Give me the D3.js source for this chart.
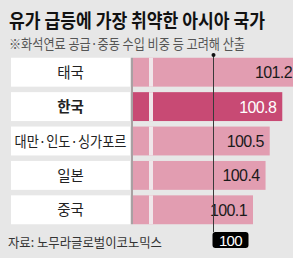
<!DOCTYPE html>
<html>
<head>
<meta charset="utf-8">
<script src="https://cdn.jsdelivr.net/npm/d3@7"></script>
<style>
  body { margin: 0; background: #fff; }
  text { font-family: "Noto Sans CJK KR", "Noto Sans", sans-serif; }
  .num { font-family: "Liberation Sans", Arial, sans-serif; }
</style>
</head>
<body>
<svg id="chart" width="293" height="273"></svg>
<script>
/* DATA */
const countries = ["태국", "한국", "대만·인도·싱가포르", "일본", "중국"];
const values = [101.2, 100.8, 100.5, 100.4, 100.1];
const highlight = "한국";
const refValue = 100;

const width = 293, height = 273;
const svg = d3.select("svg#chart");

/* BACKGROUND */
svg.append("rect").attr("x", 0).attr("y", 0)
  .attr("width", width).attr("height", 258)
  .attr("fill", "#e7e7e7");

/* SCALES */
const labelLeft = 11, labelRight = 130, barStart = 133;

// infographic scale is not linear from the baseline, so use a piecewise domain
let xScale = d3.scaleLinear()
  .domain([refValue, 100.1, 101.2])
  .range([214, 253, 299]);

let yScale = d3.scaleBand()
  .domain(countries)
  .range([55, 227])
  .paddingInner(0.16)
  .paddingOuter(0.08);

const rows = countries.map((c, i) => ({country: c, value: values[i]}));

/* TITLES */
svg.append("text")
  .attr("x", 9).attr("y", 28)
  .attr("font-size", 19).attr("font-weight", 700)
  .attr("fill", "#111")
  .attr("textLength", 256).attr("lengthAdjust", "spacingAndGlyphs")
  .text("유가 급등에 가장 취약한 아시아 국가");

svg.append("text")
  .attr("x", 9).attr("y", 49)
  .attr("font-size", 14)
  .attr("fill", "#555")
  .attr("textLength", 236).attr("lengthAdjust", "spacingAndGlyphs")
  .text("※화석연료 공급·중동 수입 비중 등 고려해 산출");

/* ROWS */
const plotArea = svg.append("g").attr("id", "plotArea");

const row = plotArea.selectAll("g.row")
  .data(rows)
  .join("g")
  .attr("class", "row");

row.append("rect")
  .attr("x", labelLeft)
  .attr("y", d => yScale(d.country))
  .attr("width", labelRight - labelLeft)
  .attr("height", yScale.bandwidth())
  .attr("fill", "#fff");

const labels = row.append("text")
  .attr("x", (labelLeft + labelRight) / 2)
  .attr("y", d => yScale(d.country) + yScale.bandwidth() / 2 + 5.5)
  .attr("text-anchor", "middle")
  .attr("font-size", 14.5)
  .attr("font-weight", d => d.country === highlight ? 700 : 400)
  .attr("fill", "#222")
  .text(d => d.country);

// the CJK middle dot is full width; squeeze long labels into the cell
labels.each(function() {
  if (this.getComputedTextLength() > 112) {
    d3.select(this).attr("textLength", 112).attr("lengthAdjust", "spacingAndGlyphs");
  }
});

row.append("rect")
  .attr("x", barStart)
  .attr("y", d => yScale(d.country))
  .attr("width", d => xScale(d.value) - barStart)
  .attr("height", yScale.bandwidth())
  .attr("fill", d => d.country === highlight ? "#c84a74" : "#e29db1");

// white gap across the bars
row.append("rect")
  .attr("x", 149)
  .attr("y", d => yScale(d.country))
  .attr("width", 4)
  .attr("height", yScale.bandwidth())
  .attr("fill", "#f0e6ea");

row.append("text")
  .attr("class", "num")
  .attr("x", d => Math.min(xScale(d.value) - 6, 292))
  .attr("y", d => yScale(d.country) + yScale.bandwidth() / 2 + 6)
  .attr("text-anchor", "end")
  .attr("font-size", 16)
  .attr("letter-spacing", -0.6)
  .attr("fill", d => d.country === highlight ? "#fff" : "#1a1a1a")
  .text(d => d.value.toFixed(1));

/* AXIS LINE LEFT OF BARS */
plotArea.append("line")
  .attr("x1", 132).attr("x2", 132)
  .attr("y1", yScale(countries[0]))
  .attr("y2", yScale(countries[countries.length - 1]) + yScale.bandwidth())
  .attr("stroke", "#6a5a5e").attr("stroke-width", 1);

/* REFERENCE LINE AT 100 */
const xRef = Math.round(xScale(refValue)) - 0.5;
plotArea.append("line")
  .attr("x1", xRef).attr("x2", xRef)
  .attr("y1", 55).attr("y2", 232)
  .attr("stroke", "#3a3a3a").attr("stroke-width", 1);

plotArea.append("circle")
  .attr("cx", xRef).attr("cy", 55).attr("r", 2)
  .attr("fill", "#111");

plotArea.append("rect")
  .attr("x", xRef - 1).attr("y", 232)
  .attr("width", 36).attr("height", 16)
  .attr("rx", 3)
  .attr("fill", "#000");

plotArea.append("text")
  .attr("class", "num")
  .attr("x", xRef + 17).attr("y", 246)
  .attr("text-anchor", "middle")
  .attr("font-size", 15)
  .attr("letter-spacing", -0.6)
  .attr("fill", "#fff")
  .text(refValue);

/* SOURCE */
svg.append("text")
  .attr("x", 8).attr("y", 247)
  .attr("font-size", 13)
  .attr("fill", "#333")
  .attr("textLength", 154).attr("lengthAdjust", "spacingAndGlyphs")
  .text("자료: 노무라글로벌이코노믹스");
</script>
</body>
</html>
